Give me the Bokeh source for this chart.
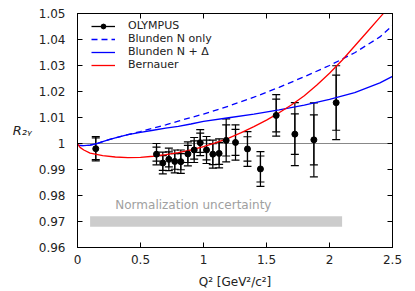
from bokeh.plotting import figure
from bokeh.models import (ColumnDataSource, Whisker, TeeHead, Span, Legend, LegendItem,
                          LinearAxis, FixedTicker, Label, Range1d)
from bokeh.embed import file_html
from bokeh.resources import INLINE

# ---------------- data ----------------
q2 = [0.145, 0.627, 0.677, 0.725, 0.772, 0.820, 0.876, 0.926, 0.974, 1.024,
      1.074, 1.124, 1.180, 1.254, 1.349, 1.452, 1.577, 1.725, 1.876, 2.053]
r2g = [0.9980, 0.9959, 0.9925, 0.9939, 0.9931, 0.9930, 0.9960, 0.9975, 1.0003, 0.9975,
       0.9959, 0.9962, 1.0012, 1.0004, 0.9979, 0.9902, 1.0108, 1.0036, 1.0014, 1.0157]
err_total = [0.0047, 0.0041, 0.0042, 0.0043, 0.0044, 0.0045, 0.0046, 0.0048, 0.0050, 0.0052,
             0.0054, 0.0056, 0.0083, 0.0068, 0.0067, 0.0067, 0.0080, 0.0121, 0.0142, 0.0142]
err_stat = [0.0042, 0.0027, 0.0028, 0.0029, 0.0030, 0.0031, 0.0033, 0.0035, 0.0037, 0.0038,
            0.0040, 0.0042, 0.0060, 0.0050, 0.0047, 0.0050, 0.0063, 0.0078, 0.0096, 0.0106]

q2_theory = [0.0, 0.05, 0.1, 0.15, 0.2, 0.25, 0.3, 0.4, 0.5, 0.6, 0.7, 0.8, 0.9, 1.0,
             1.2, 1.4, 1.6, 1.8, 2.0, 2.2, 2.4, 2.5]
blunden_n_only = [0.9993, 0.9992, 0.9994, 0.9999, 1.0007, 1.0015, 1.0022, 1.0034, 1.0046,
                  1.0059, 1.0072, 1.0086, 1.0100, 1.0113, 1.0144, 1.0178, 1.0216, 1.0257,
                  1.0300, 1.0349, 1.0410, 1.0454]
blunden_n_delta = [0.9993, 0.9992, 0.9994, 0.9999, 1.0007, 1.0015, 1.0022, 1.0034, 1.0043,
                   1.0051, 1.0059, 1.0066, 1.0075, 1.0085, 1.0099, 1.0113, 1.0129, 1.0148,
                   1.0170, 1.0196, 1.0233, 1.0258]

q2_bernauer = [0.0, 0.02, 0.05, 0.1, 0.2, 0.3, 0.4, 0.5, 0.6, 0.7, 0.8, 0.9, 1.0, 1.1, 1.2,
               1.3, 1.4, 1.5, 1.6, 1.7, 1.8, 1.9, 2.0, 2.1, 2.2, 2.3, 2.4, 2.5]
bernauer = [1.0000, 0.9985, 0.9975, 0.9963, 0.9953, 0.9948, 0.9946, 0.9947, 0.9951, 0.9957,
            0.9965, 0.9975, 0.9988, 1.0003, 1.0021, 1.0042, 1.0065, 1.0090, 1.0118, 1.0149,
            1.0184, 1.0225, 1.0270, 1.0320, 1.0375, 1.0430, 1.0485, 1.0540]

norm_q2_range = [0.1, 2.1]
norm_r_range = [0.968, 0.972]
norm_text = "Normalization uncertainty"

x_ticks = [0, 0.5, 1, 1.5, 2, 2.5]
x_tick_labels = ["0", "0.5", "1", "1.5", "2", "2.5"]
y_ticks = [0.96, 0.97, 0.98, 0.99, 1.0, 1.01, 1.02, 1.03, 1.04, 1.05]
y_tick_labels = ["0.96", "0.97", "0.98", "0.99", "1", "1.01", "1.02", "1.03", "1.04", "1.05"]

FONT = "DejaVu Sans"

# ---------------- figure ----------------
p = figure(width=415, height=291, x_range=Range1d(0, 2.5), y_range=Range1d(0.96, 1.05),
           output_backend="svg", toolbar_location=None,
           min_border_left=77, min_border_right=23, min_border_top=13, min_border_bottom=44)
p.xgrid.visible = False
p.ygrid.visible = False
p.outline_line_color = "black"
p.outline_line_width = 1
p.background_fill_color = "white"
p.border_fill_color = "white"

for ax, ticks, labels in ((p.xaxis[0], x_ticks, x_tick_labels), (p.yaxis[0], y_ticks, y_tick_labels)):
    ax.ticker = FixedTicker(ticks=ticks)
    ax.major_label_overrides = {t: l for t, l in zip(ticks, labels)}
    ax.major_tick_in = 5
    ax.major_tick_out = 0
    ax.minor_tick_line_color = None
    ax.axis_line_color = "black"
    ax.major_tick_line_color = "black"
    ax.major_label_text_font = FONT
    ax.major_label_text_font_size = "12px"
    ax.major_label_text_color = "#222222"

p.yaxis[0].major_label_standoff = 12
p.xaxis[0].major_label_standoff = 7
p.xaxis[0].axis_label = "Q² [GeV²/c²]"
p.xaxis[0].axis_label_text_font = FONT
p.xaxis[0].axis_label_text_font_size = "12px"
p.xaxis[0].axis_label_text_font_style = "normal"
p.xaxis[0].axis_label_text_color = "#222222"
p.xaxis[0].axis_label_standoff = 8

# y axis label R_2γ, horizontal like the reference
yax = p.yaxis[0]
yax.axis_label = "R₂ᵧ"
yax.axis_label_text_font = FONT
yax.axis_label_text_font_size = "13px"
yax.axis_label_text_font_style = "italic"
yax.axis_label_text_color = "#222222"
yax.axis_label_standoff = 4
if "axis_label_orientation" in yax.properties():
    yax.axis_label_orientation = "horizontal"

top_axis = LinearAxis(ticker=FixedTicker(ticks=x_ticks),
                      major_label_overrides={t: "" for t in x_ticks},
                      major_label_text_font_size="1px", major_label_standoff=0,
                      major_tick_in=5, major_tick_out=0, minor_tick_line_color=None)
right_axis = LinearAxis(ticker=FixedTicker(ticks=y_ticks),
                        major_label_overrides={t: "" for t in y_ticks},
                        major_label_text_font_size="1px", major_label_standoff=0,
                        major_tick_in=5, major_tick_out=0, minor_tick_line_color=None)
p.add_layout(top_axis, "above")
p.add_layout(right_axis, "right")

# reference line at unity
p.add_layout(Span(location=1.0, dimension="width", line_color="#888888", line_width=1, level="underlay"))

# normalization band
p.quad(left=[norm_q2_range[0]], right=[norm_q2_range[1]], bottom=[norm_r_range[0]], top=[norm_r_range[1]],
       fill_color="#cccccc", line_color=None)
p.add_layout(Label(x=0.3, y=0.9762, text=norm_text, text_font=FONT, text_font_size="12px",
                   text_color="#a0a0a0", text_baseline="middle", text_align="left"))

# theory curves
r_dash = p.line(q2_theory, blunden_n_only, line_color="blue", line_width=1.3, line_dash="6 4")
r_nd = p.line(q2_theory, blunden_n_delta, line_color="blue", line_width=1.3)
r_bern = p.line(q2_bernauer, bernauer, line_color="red", line_width=1.3)

# data
src = ColumnDataSource(dict(
    x=q2, y=r2g,
    lo_t=[v - e for v, e in zip(r2g, err_total)], up_t=[v + e for v, e in zip(r2g, err_total)],
    lo_s=[v - e for v, e in zip(r2g, err_stat)], up_s=[v + e for v, e in zip(r2g, err_stat)],
))
p.add_layout(Whisker(base="x", upper="up_t", lower="lo_t", source=src, line_color="black", line_width=1.2,
                     upper_head=TeeHead(size=8, line_color="black", line_width=1.2),
                     lower_head=TeeHead(size=8, line_color="black", line_width=1.2)))
p.add_layout(Whisker(base="x", upper="up_s", lower="lo_s", source=src, line_color="black", line_width=1.2,
                     upper_head=TeeHead(size=8, line_color="black", line_width=1.2),
                     lower_head=TeeHead(size=8, line_color="black", line_width=1.2)))
r_pts = p.scatter("x", "y", source=src, size=6, color="black")
r_leg_line = p.line([float("nan")], [float("nan")], line_color="black", line_width=1.3)

legend = Legend(items=[
    LegendItem(label="OLYMPUS", renderers=[r_leg_line, r_pts]),
    LegendItem(label="Blunden N only", renderers=[r_dash]),
    LegendItem(label="Blunden N + Δ", renderers=[r_nd]),
    LegendItem(label="Bernauer", renderers=[r_bern]),
], location=(14, 176))
legend.background_fill_alpha = 0
legend.border_line_color = None
legend.label_text_font = FONT
legend.label_text_font_size = "11px"
legend.label_text_color = "#222222"
legend.glyph_width = 24
legend.glyph_height = 12
legend.label_height = 12
legend.spacing = 0
legend.padding = 0
legend.margin = 0
legend.label_standoff = 13
p.add_layout(legend)

open("out.html", "w").write(file_html(p, INLINE))
